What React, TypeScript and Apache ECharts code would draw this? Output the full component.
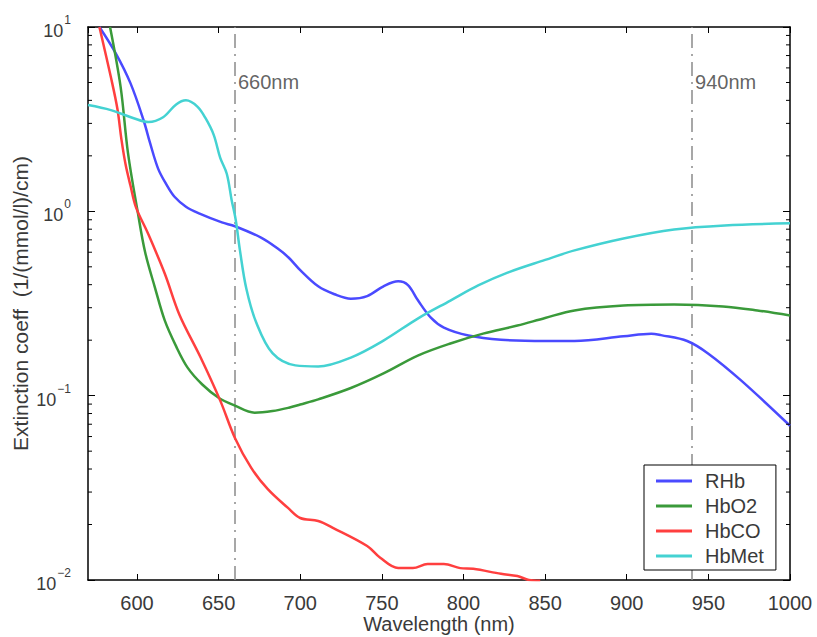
import React, { useEffect, useRef } from 'react';
import * as echarts from 'echarts';

// ---------- data ----------
const seriesNames = ['RHb', 'HbO2', 'HbCO', 'HbMet'];
const seriesColors = ['#4a4aff', '#3a9a3a', '#ff3f3f', '#44d2d2'];

const rhbWavelength = [577, 587, 596, 604, 608, 613, 618, 623, 630, 638, 652, 660, 676, 686, 693, 700, 711, 721, 731, 741, 751, 760, 766, 772, 780, 788, 803, 823, 850, 868, 898, 915, 921, 937, 950, 970, 1000];
const rhbValues = [10, 7.2, 4.96, 3.13, 2.35, 1.7, 1.4, 1.2, 1.06, 0.975, 0.871, 0.83, 0.72, 0.63, 0.56, 0.48, 0.392, 0.355, 0.336, 0.347, 0.392, 0.417, 0.398, 0.33, 0.265, 0.234, 0.212, 0.201, 0.198, 0.198, 0.21, 0.217, 0.213, 0.198, 0.169, 0.121, 0.0687];

const hbo2Wavelength = [583.5, 590, 594.5, 600.6, 605, 611, 617, 624, 631, 640, 650, 660, 672, 683, 693, 700, 711, 731, 751, 772, 792, 812, 833, 850, 868, 898, 929, 959, 980, 1000];
const hbo2Values = [10, 4.72, 2.07, 0.975, 0.6, 0.386, 0.256, 0.185, 0.142, 0.115, 0.0975, 0.0883, 0.0809, 0.0825, 0.086, 0.0895, 0.0955, 0.11, 0.132, 0.165, 0.192, 0.217, 0.24, 0.264, 0.29, 0.308, 0.312, 0.305, 0.29, 0.272];

const hbcoWavelength = [577, 584, 588, 590.5, 593, 596, 599.4, 606.7, 617, 626, 639, 651, 660, 670, 680, 692.5, 700, 711, 720, 741, 749, 760, 769, 778, 788, 798, 806, 823, 833, 840, 847];
const hbcoValues = [10, 5.35, 3.6, 2.45, 1.8, 1.38, 1.05, 0.76, 0.46, 0.275, 0.161, 0.094, 0.059, 0.0406, 0.0312, 0.0246, 0.0217, 0.0209, 0.0192, 0.0153, 0.0132, 0.0116, 0.0116, 0.0122, 0.0122, 0.0116, 0.0115, 0.0108, 0.0105, 0.01, 0.0099];

const hbmetWavelength = [570, 584, 598, 607, 616, 624, 630, 637, 642, 647, 651, 655, 658, 660, 661, 663, 667, 673, 683, 697, 711, 731, 751, 772, 792, 809, 827, 850, 868, 898, 929, 960, 1000];
const hbmetValues = [3.77, 3.54, 3.2, 3.05, 3.24, 3.8, 4.0, 3.7, 3.2, 2.6, 1.95, 1.6, 1.15, 0.95, 0.84, 0.62, 0.38, 0.25, 0.17, 0.146, 0.144, 0.161, 0.199, 0.262, 0.328, 0.396, 0.465, 0.545, 0.614, 0.713, 0.798, 0.839, 0.861];

const markerWavelengths = [660, 940];
const markerLabels = ['660nm', '940nm'];
const markerLabelLevel = 5;

const xMin = 570;
const xMax = 1000;
const yMin = 0.01;
const yMax = 10;
const yTickValues = [0.01, 0.1, 1, 10];
const yTickBases = ['10', '10', '10', '10'];
const yTickExponents = ['\u22122', '\u22121', '0', '1'];
const yMinorTickValues = [0.02, 0.03, 0.04, 0.05, 0.06, 0.07, 0.08, 0.09, 0.2, 0.3, 0.4, 0.5, 0.6, 0.7, 0.8, 0.9, 2, 3, 4, 5, 6, 7, 8, 9];

const xAxisName = 'Wavelength (nm)';
const yAxisName = 'Extinction coeff  (1/(mmol/l)/cm)';

// ---------- chart ----------
const FONT = '"Liberation Sans", Arial, Helvetica, sans-serif';
const TEXT = '#3a3a3a';

const pairs = (xs: number[], ys: number[]) => xs.map((x, i) => [x, ys[i]]);

export default function App() {
  const ref = useRef<HTMLDivElement>(null);

  useEffect(() => {
    if (!ref.current) return;
    const chart = echarts.init(ref.current, undefined, { renderer: 'svg' });

    const curves = [
      pairs(rhbWavelength, rhbValues),
      pairs(hbo2Wavelength, hbo2Values),
      pairs(hbcoWavelength, hbcoValues),
      pairs(hbmetWavelength, hbmetValues),
    ];

    const lineSeries = seriesNames.map((name, i) => ({
      type: 'line',
      name,
      data: curves[i],
      xAxisIndex: 0,
      yAxisIndex: 0,
      showSymbol: false,
      symbol: 'none',
      smooth: 0.35,
      clip: true,
      color: seriesColors[i],
      lineStyle: { color: seriesColors[i], width: 2.5 },
      z: 3,
    }));

    const option: any = {
      animation: false,
      backgroundColor: '#ffffff',
      textStyle: { fontFamily: FONT },
      grid: { left: 88, right: 27, top: 27, bottom: 57, containLabel: false, outerBoundsMode: 'none' },
      legend: {
        data: seriesNames,
        orient: 'vertical',
        left: 644,
        top: 465,
        icon: 'rect',
        itemWidth: 36,
        itemHeight: 3,
        itemGap: 5,
        padding: [6, 12, 4, 12],
        backgroundColor: '#ffffff',
        borderColor: '#000000',
        borderWidth: 1,
        textStyle: { fontFamily: FONT, fontSize: 20, color: TEXT, lineHeight: 20, padding: [0, 0, 0, 8] },
        z: 10,
      },
      xAxis: [
        {
          type: 'value',
          min: xMin,
          max: xMax,
          splitNumber: 8,
          position: 'bottom',
          name: xAxisName,
          nameLocation: 'middle',
          nameGap: 34,
          nameMoveOverlap: false,
          nameTextStyle: { fontFamily: FONT, fontSize: 20, color: TEXT, lineHeight: 20 },
          axisLine: { show: true, onZero: false, lineStyle: { color: '#000', width: 1.5 } },
          axisTick: { show: true, inside: true, length: 6, lineStyle: { color: '#000', width: 1 } },
          axisLabel: {
            show: true,
            showMinLabel: false,
            margin: 13,
            fontFamily: FONT,
            fontSize: 20,
            color: TEXT,
            formatter: (v: number) => String(v),
          },
          splitLine: { show: false },
        },
        {
          type: 'value',
          min: xMin,
          max: xMax,
          splitNumber: 8,
          position: 'top',
          axisLine: { show: true, onZero: false, lineStyle: { color: '#000', width: 1.5 } },
          axisTick: { show: true, inside: true, length: 6, lineStyle: { color: '#000', width: 1 } },
          axisLabel: { show: false },
          splitLine: { show: false },
        },
      ],
      yAxis: [
        {
          type: 'log',
          logBase: 10,
          min: yMin,
          max: yMax,
          position: 'left',
          name: yAxisName,
          nameLocation: 'middle',
          nameGap: 57,
          nameMoveOverlap: false,
          nameRotate: 90,
          nameTextStyle: { fontFamily: FONT, fontSize: 21, color: TEXT },
          axisLine: { show: true, onZero: false, lineStyle: { color: '#000', width: 1.5 } },
          axisTick: { show: true, inside: true, length: 7, lineStyle: { color: '#000', width: 1 } },
          axisLabel: {
            show: true,
            margin: 17,
            formatter: (v: number) => {
              const idx = yTickValues.findIndex((t) => Math.abs(Math.log10(t) - Math.log10(v)) < 1e-6);
              if (idx < 0) return '';
              return `{b|${yTickBases[idx]}}{s|${yTickExponents[idx]}}`;
            },
            rich: {
              b: { fontFamily: FONT, fontSize: 18, color: TEXT, lineHeight: 26, verticalAlign: 'bottom' },
              s: { fontFamily: FONT, fontSize: 12, color: TEXT, lineHeight: 26, verticalAlign: 'top', padding: [0, 0, 0, 1] },
            },
          },
          splitLine: { show: false },
        },
        {
          type: 'log',
          logBase: 10,
          min: yMin,
          max: yMax,
          position: 'right',
          axisLine: { show: true, onZero: false, lineStyle: { color: '#000', width: 1.5 } },
          axisTick: { show: true, inside: true, length: 7, lineStyle: { color: '#000', width: 1 } },
          axisLabel: { show: false },
          splitLine: { show: false },
        },
      ],
      series: [
        {
          type: 'scatter',
          name: 'markers',
          xAxisIndex: 0,
          yAxisIndex: 0,
          data: markerWavelengths.map((w) => [w, markerLabelLevel]),
          symbolSize: 0,
          silent: true,
          z: 2,
          label: {
            show: true,
            position: 'right',
            distance: 3,
            formatter: (p: any) => markerLabels[p.dataIndex],
            fontFamily: FONT,
            fontSize: 20,
            color: TEXT,
          },
          markLine: {
            silent: true,
            symbol: ['none', 'none'],
            label: { show: false },
            lineStyle: { color: '#8a8a8a', width: 1.5, type: [14, 6, 2, 6] },
            data: markerWavelengths.map((w) => ({ xAxis: w })),
            z: 1,
          },
        },
        ...lineSeries,
        {
          type: 'custom',
          name: 'minorTicks',
          coordinateSystem: 'cartesian2d',
          xAxisIndex: 0,
          yAxisIndex: 0,
          silent: true,
          clip: false,
          z: 5,
          encode: { x: 0, y: 1 },
          data: yMinorTickValues.map((v) => [xMin, v]),
          renderItem: (_params: any, api: any) => {
            const v = api.value(1);
            const l = api.coord([xMin, v]);
            const r = api.coord([xMax, v]);
            return {
              type: 'group',
              children: [
                { type: 'line', shape: { x1: l[0], y1: l[1], x2: l[0] + 4, y2: l[1] }, style: { stroke: '#000', lineWidth: 1 } },
                { type: 'line', shape: { x1: r[0] - 4, y1: r[1], x2: r[0], y2: r[1] }, style: { stroke: '#000', lineWidth: 1 } },
              ],
            };
          },
        },
      ],
    };

    chart.setOption(option);
    return () => chart.dispose();
  }, []);

  return (
    <div
      ref={ref}
      style={{ position: 'fixed', left: 0, top: 0, width: 817, height: 637, background: '#fff' }}
    />
  );
}
